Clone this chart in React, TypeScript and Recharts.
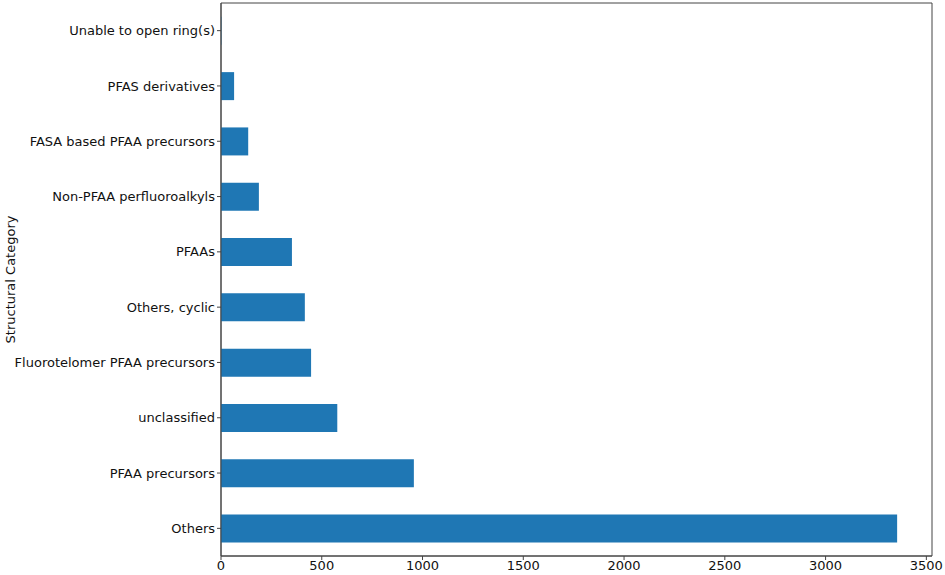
// Horizontal bar chart of structural categories (matplotlib/pandas look).
import { Bar, BarChart, ReferenceArea, XAxis, YAxis } from 'recharts'

const categories = [
  'Unable to open ring(s)',
  'PFAS derivatives',
  'FASA based PFAA precursors',
  'Non-PFAA perfluoroalkyls',
  'PFAAs',
  'Others, cyclic',
  'Fluorotelomer PFAA precursors',
  'unclassified',
  'PFAA precursors',
  'Others',
]
const counts = [2, 65, 135, 188, 352, 416, 447, 577, 957, 3355]
const xTicks = [0, 500, 1000, 1500, 2000, 2500, 3000, 3500]
const xMax = 3528

const data = categories.map((name, i) => ({ name, count: counts[i] }))

const font = 'DejaVu Sans, sans-serif'
const axisColor = '#444'
const tick = { fontSize: 13, fill: '#111', fontFamily: font }

export default function App() {
  return (
    <div style={{ position: 'absolute', left: 0, top: 0, background: '#fff' }}>
      <BarChart
        width={945}
        height={575}
        data={data}
        layout="vertical"
        margin={{ top: 3, right: 13, bottom: 0, left: 0 }}
        barCategoryGap="25%"
      >
        <XAxis
          type="number"
          domain={[0, xMax]}
          ticks={xTicks}
          allowDataOverflow
          height={19}
          tick={tick}
          tickSize={4}
          tickMargin={1}
          stroke={axisColor}
          tickLine={{ stroke: axisColor }}
        />
        <YAxis
          type="category"
          dataKey="name"
          width={221}
          tick={tick}
          tickSize={4}
          tickMargin={2}
          interval={0}
          stroke={axisColor}
          tickLine={{ stroke: axisColor }}
          label={{
            value: 'Structural Category',
            angle: -90,
            position: 'insideLeft',
            offset: 10,
            style: { fontSize: 13, fill: '#111', fontFamily: font, textAnchor: 'middle' },
          }}
        />
        <Bar dataKey="count" fill="#1f77b4" isAnimationActive={false} />
        <ReferenceArea
          x1={0}
          x2={xMax}
          fill="none"
          stroke={axisColor}
          strokeWidth={1}
          ifOverflow="visible"
        />
      </BarChart>
    </div>
  )
}
